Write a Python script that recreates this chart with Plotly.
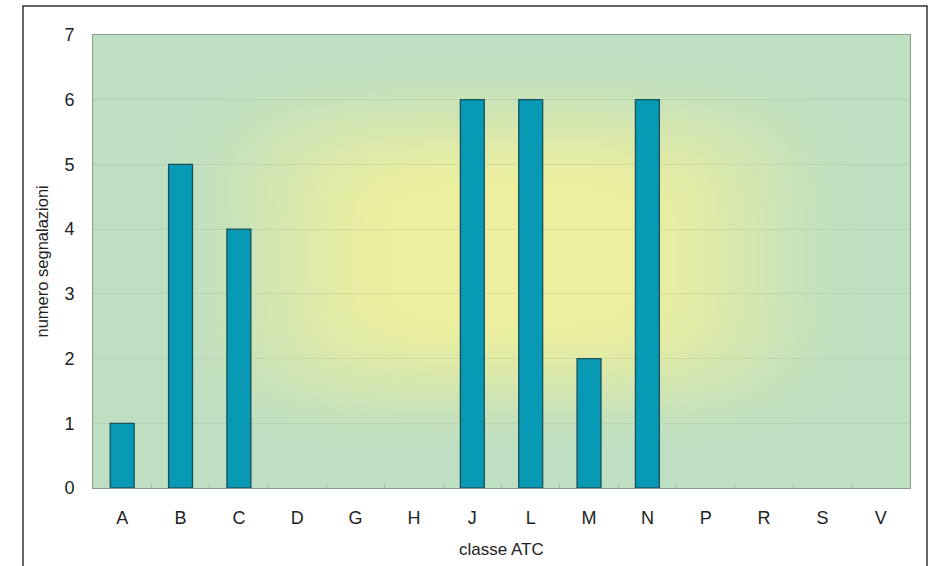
import zlib, struct, base64
import plotly.graph_objects as go

categories = ["A", "B", "C", "D", "G", "H", "J", "L", "M", "N", "P", "R", "S", "V"]
values = [1, 5, 4, 0, 0, 0, 6, 6, 2, 6, 0, 0, 0, 0]
y_ticks = [0, 1, 2, 3, 4, 5, 6, 7]

# ---- rectangular "from centre" gradient background image (styling only) ----
def make_png(w, h):
    center = (237, 239, 158)
    edge = (190, 223, 194)
    rows = []
    for j in range(h):
        v = (j + 0.5) / h * 2 - 1
        v = v + 0.03
        row = bytearray()
        for i in range(w):
            u = (i + 0.5) / w * 2 - 1
            u = u - 0.03
            p = 4.0
            d = (abs(u) ** p + abs(v) ** p) ** (1 / p)
            t = min(1.0, max(0.0, (d - 0.25) / 0.65))
            t = t * t * (3 - 2 * t)
            for k in range(3):
                row.append(int(round(center[k] + (edge[k] - center[k]) * t)))
        rows.append(bytes(row))
    raw = b"".join(b"\x00" + r for r in rows)

    def chunk(tag, data):
        c = struct.pack(">I", len(data)) + tag + data
        return c + struct.pack(">I", zlib.crc32(tag + data) & 0xFFFFFFFF)

    png = b"\x89PNG\r\n\x1a\n"
    png += chunk(b"IHDR", struct.pack(">IIBBBBB", w, h, 8, 2, 0, 0, 0))
    png += chunk(b"IDAT", zlib.compress(raw, 9))
    png += chunk(b"IEND", b"")
    return "data:image/png;base64," + base64.b64encode(png).decode()

bg = make_png(204, 113)

fig = go.Figure()
fig.add_trace(go.Bar(
    x=categories, y=values,
    marker=dict(color="#0899B5",
                line=dict(color="#17505A", width=[1.3 if v else 0 for v in values])),
))

font = "Liberation Sans, Arial, sans-serif"
fig.update_layout(
    width=934, height=566,
    margin=dict(l=93, r=24, t=35, b=78),
    paper_bgcolor="white",
    plot_bgcolor="rgba(0,0,0,0)",
    bargap=0.59,
    showlegend=False,
    font=dict(family=font, color="#222"),
    images=[dict(source=bg, xref="paper", yref="paper", x=0, y=1,
                 sizex=1, sizey=1, sizing="stretch", layer="below",
                 xanchor="left", yanchor="top")],
    xaxis=dict(
        type="category", showline=True, mirror=True, linecolor="#8E9C8E", linewidth=1,
        tickson="boundaries", ticks="inside", ticklen=4, tickcolor="#A8B8A8",
        tickfont=dict(size=18, family=font, color="#222"),
        ticklabelstandoff=13, showgrid=False, zeroline=False,
    ),
    yaxis=dict(
        range=[0, 7], tickvals=y_ticks, showline=True, mirror=True,
        linecolor="#8E9C8E", linewidth=1,
        showgrid=True, gridcolor="rgba(140,165,130,0.22)", gridwidth=1,
        ticks="", tickfont=dict(size=18, family=font, color="#222"),
        ticklabelstandoff=14, zeroline=False,
    ),
    annotations=[
        dict(text="numero segnalazioni", xref="paper", yref="paper",
             x=(41 - 93) / 817, y=0.5, textangle=-90, showarrow=False,
             font=dict(size=16.5, family=font, color="#222"),
             xanchor="center", yanchor="middle"),
        dict(text="classe ATC", xref="paper", yref="paper",
             x=0.5, y=(488 - 549) / 453, showarrow=False,
             font=dict(size=17, family=font, color="#222"),
             xanchor="center", yanchor="middle"),
    ],
    shapes=[dict(type="rect", xref="paper", yref="paper",
                 x0=(23 - 93) / 817, x1=(927 - 93) / 817,
                 y0=(488 - 580) / 453, y1=(488 - 6) / 453,
                 line=dict(color="#333", width=1.5), fillcolor="rgba(0,0,0,0)",
                 layer="above")],
)

fig.write_html("out.html")
